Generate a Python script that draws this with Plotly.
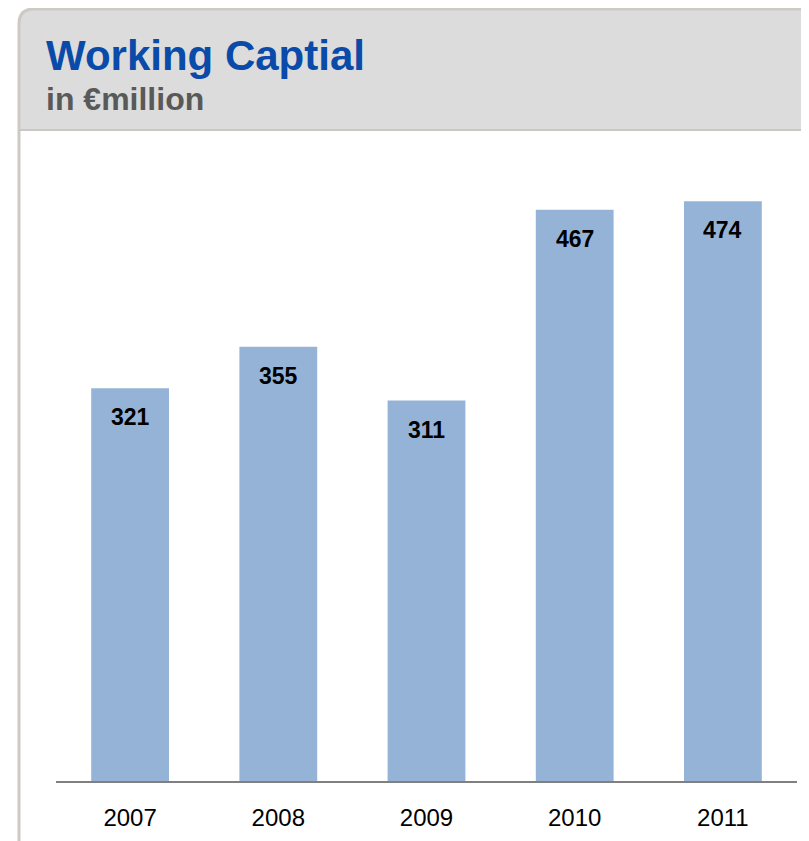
import plotly.graph_objects as go

years = ["2007", "2008", "2009", "2010", "2011"]
values = [321, 355, 311, 467, 474]
value_labels = ["321", "355", "311", "467", "474"]

# page body has an 8px margin: figure origin sits at (8, 8) in the window
OFF = 8
W, H = 809, 841

def px(x):
    return (x - OFF) / W

def py(y):
    return 1 - (y - OFF) / H

fig = go.Figure()
fig.add_trace(go.Bar(
    x=years, y=values,
    marker=dict(color="#95B3D7", line=dict(width=0)),
    width=0.525,
    hoverinfo="skip",
))

annotations = []
for i, (v, lab) in enumerate(zip(values, value_labels)):
    annotations.append(dict(
        x=i, y=v, xref="x", yref="y", text="<b>%s</b>" % lab,
        showarrow=False, yanchor="middle", yshift=-29,
        font=dict(family="Liberation Sans, Arial", size=23, color="#000000"),
    ))

annotations.append(dict(
    x=px(44), y=py(55), xref="paper", yref="paper", xanchor="left", yanchor="middle",
    text="<b>Working Captial</b>", showarrow=False,
    font=dict(family="Liberation Sans, Arial", size=42, color="#0A4AA8"),
))
annotations.append(dict(
    x=px(44), y=py(99), xref="paper", yref="paper", xanchor="left", yanchor="middle",
    text="<b>in €million</b>", showarrow=False,
    font=dict(family="Liberation Sans, Arial", size=32, color="#595959"),
))

r = 15
header_path = (
    f"M {px(19)},{py(130)} L {px(19)},{py(9 + r)} "
    f"Q {px(19)},{py(9)} {px(19 + r)},{py(9)} "
    f"L {px(830)},{py(9)} L {px(830)},{py(130)} Z"
)
border_path = (
    f"M {px(19)},{py(860)} L {px(19)},{py(9 + r)} "
    f"Q {px(19)},{py(9)} {px(19 + r)},{py(9)} L {px(830)},{py(9)}"
)

shapes = [
    dict(type="path", xref="paper", yref="paper", path=header_path,
         fillcolor="#DCDCDC", line=dict(width=0), layer="below"),
    dict(type="path", xref="paper", yref="paper", path=border_path,
         line=dict(color="#CDC9C5", width=3), layer="below"),
    dict(type="line", xref="paper", yref="paper", x0=px(19), x1=px(830),
         y0=py(130), y1=py(130), line=dict(color="#CBC7C3", width=2), layer="below"),
]

fig.update_layout(
    width=W, height=H,
    margin=dict(l=0, r=0, t=0, b=0, pad=0),
    paper_bgcolor="#FFFFFF", plot_bgcolor="rgba(0,0,0,0)",
    showlegend=False,
    annotations=annotations,
    shapes=shapes,
    xaxis=dict(
        type="category",
        categoryorder="array", categoryarray=years,
        range=[-0.5, len(years) - 0.5],
        automargin=False,
        domain=[px(56), px(797)],
        showline=True, linecolor="#808080", linewidth=2,
        showgrid=False, zeroline=False, ticks="",
        tickfont=dict(family="Liberation Sans, Arial", size=24, color="#000000"),
        ticklabelstandoff=14,
    ),
    yaxis=dict(
        automargin=False,
        domain=[py(781), py(140)],
        range=[0, 524],
        visible=False, showgrid=False, zeroline=False,
    ),
)

fig.write_html("out.html")
